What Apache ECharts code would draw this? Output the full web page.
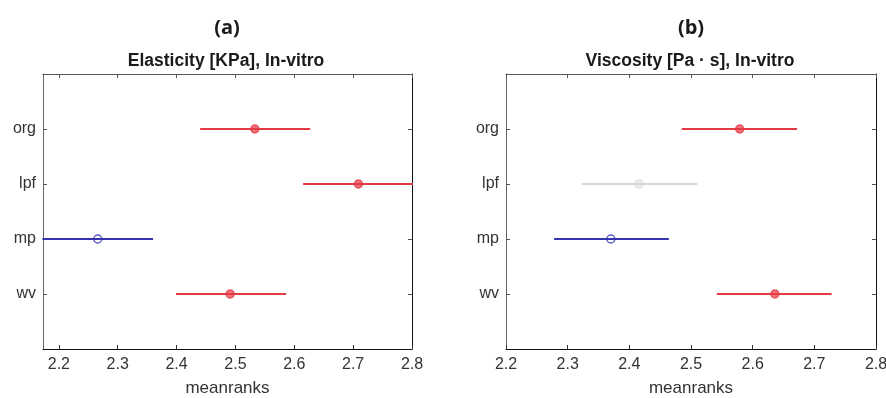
<!DOCTYPE html>
<html><head><meta charset="utf-8">
<script src="https://cdn.jsdelivr.net/npm/echarts@6/dist/echarts.min.js"></script>
<style>html,body{margin:0;padding:0;background:#fff}#c{width:886px;height:398px}</style>
</head><body><div id="c"></div>
<script>
// categories from bottom to top
const categories = ['wv', 'mp', 'lpf', 'org'];
const xTicks = [2.2, 2.3, 2.4, 2.5, 2.6, 2.7, 2.8];

// Panel (a) Elasticity
const meanA = [2.491, 2.266, 2.709, 2.533];
const lowA  = [2.399, 2.172, 2.615, 2.440];
const highA = [2.586, 2.360, 2.803, 2.627];
const groupA = ['sig', 'ref', 'sig', 'sig'];

// Panel (b) Viscosity
const meanB = [2.636, 2.370, 2.416, 2.579];
const lowB  = [2.542, 2.278, 2.323, 2.485];
const highB = [2.728, 2.464, 2.510, 2.672];
const groupB = ['sig', 'ref', 'ns', 'sig'];

const groupColor = { sig: '#e43a44', ref: '#3434b0', ns: '#d8d8d8' };
const groupFill = { sig: '#f0505a', ref: '#ffffff', ns: '#e8e8e8' };

const chart = echarts.init(document.getElementById('c'));
const FONT = '"Liberation Sans", Arial, sans-serif';

function axesFor(gi, xmin) {
  const base = {
    gridIndex: gi, type: 'value', min: xmin, max: 2.8,
    splitLine: { show: false },
  };
  return [
    Object.assign({}, base, {
      position: 'bottom',
      axisLine: { show: true, onZero: false, lineStyle: { color: '#111', width: 1 } },
      axisTick: { inside: true, length: 4, lineStyle: { color: '#333' }, customValues: xTicks },
      axisLabel: { customValues: xTicks, fontFamily: FONT, fontSize: 16, color: '#333', margin: 8,
        formatter: v => v.toFixed(1) },
      name: 'meanranks', nameLocation: 'middle', nameGap: 31,
      nameTextStyle: { fontFamily: FONT, fontSize: 17, color: '#333' }
    }),
    Object.assign({}, base, {
      position: 'top',
      axisLine: { show: true, onZero: false, lineStyle: { color: '#555', width: 1 } },
      axisTick: { inside: true, length: 4, lineStyle: { color: '#555' }, customValues: xTicks },
      axisLabel: { show: false }
    })
  ];
}
function yAxesFor(gi) {
  const base = { gridIndex: gi, type: 'value', min: 0, max: 5, splitLine: { show: false } };
  const vals = [1, 2, 3, 4];
  return [
    Object.assign({}, base, {
      position: 'left',
      axisLine: { show: true, onZero: false, lineStyle: { color: '#666' } },
      axisTick: { inside: true, length: 4, lineStyle: { color: '#555' }, customValues: vals },
      axisLabel: { customValues: vals, fontFamily: FONT, fontSize: 16, color: '#333', margin: 7,
        formatter: v => categories[Math.round(v) - 1] || '' }
    }),
    Object.assign({}, base, {
      position: 'right',
      axisLine: { show: true, onZero: false, lineStyle: { color: '#111' } },
      axisTick: { inside: true, length: 4, lineStyle: { color: '#555' }, customValues: vals },
      axisLabel: { show: false }
    })
  ];
}

function seriesFor(xi, yi, mean, low, high, group) {
  const out = [];
  categories.forEach((c, i) => {
    const y = i + 1;
    const g = group[i];
    out.push({
      type: 'line', xAxisIndex: xi, yAxisIndex: yi, silent: true, clip: true,
      data: [[low[i], y], [high[i], y]], symbol: 'none',
      lineStyle: { color: groupColor[g], width: 2 }
    });
    out.push({
      type: 'scatter', xAxisIndex: xi, yAxisIndex: yi, silent: true,
      data: [[mean[i], y]], symbol: 'circle', symbolSize: 8,
      itemStyle: { color: groupFill[g], borderColor: groupColor[g], borderWidth: 1.5 }
    });
  });
  return out;
}

const option = {
  animation: false,
  grid: [
    { left: 43, right: 474, top: 74, bottom: 49, containLabel: false, outerBoundsMode: 'none' },
    { left: 506, right: 10, top: 74, bottom: 49, containLabel: false, outerBoundsMode: 'none' }
  ],
  xAxis: [...axesFor(0, 2.173), ...axesFor(1, 2.2)],
  yAxis: [...yAxesFor(0), ...yAxesFor(1)],
  graphic: [
    { type: 'text', x: 227, y: 28, style: { text: '(a)', font: 'bold 20px "Open Sans", sans-serif', fill: '#1a1a1a', align: 'center', verticalAlign: 'middle' } },
    { type: 'text', x: 226, y: 61, style: { text: 'Elasticity [KPa], In-vitro', font: 'bold 17.5px "Liberation Sans", Arial, sans-serif', fill: '#1a1a1a', align: 'center', verticalAlign: 'middle' } },
    { type: 'text', x: 691, y: 28, style: { text: '(b)', font: 'bold 20px "Open Sans", sans-serif', fill: '#1a1a1a', align: 'center', verticalAlign: 'middle' } },
    { type: 'text', x: 690, y: 61, style: { text: 'Viscosity [Pa \u00B7 s], In-vitro', font: 'bold 17.5px "Liberation Sans", Arial, sans-serif', fill: '#1a1a1a', align: 'center', verticalAlign: 'middle' } }
  ],
  series: [
    ...seriesFor(0, 0, meanA, lowA, highA, groupA),
    ...seriesFor(2, 2, meanB, lowB, highB, groupB)
  ]
};
chart.setOption(option);
</script></body></html>
